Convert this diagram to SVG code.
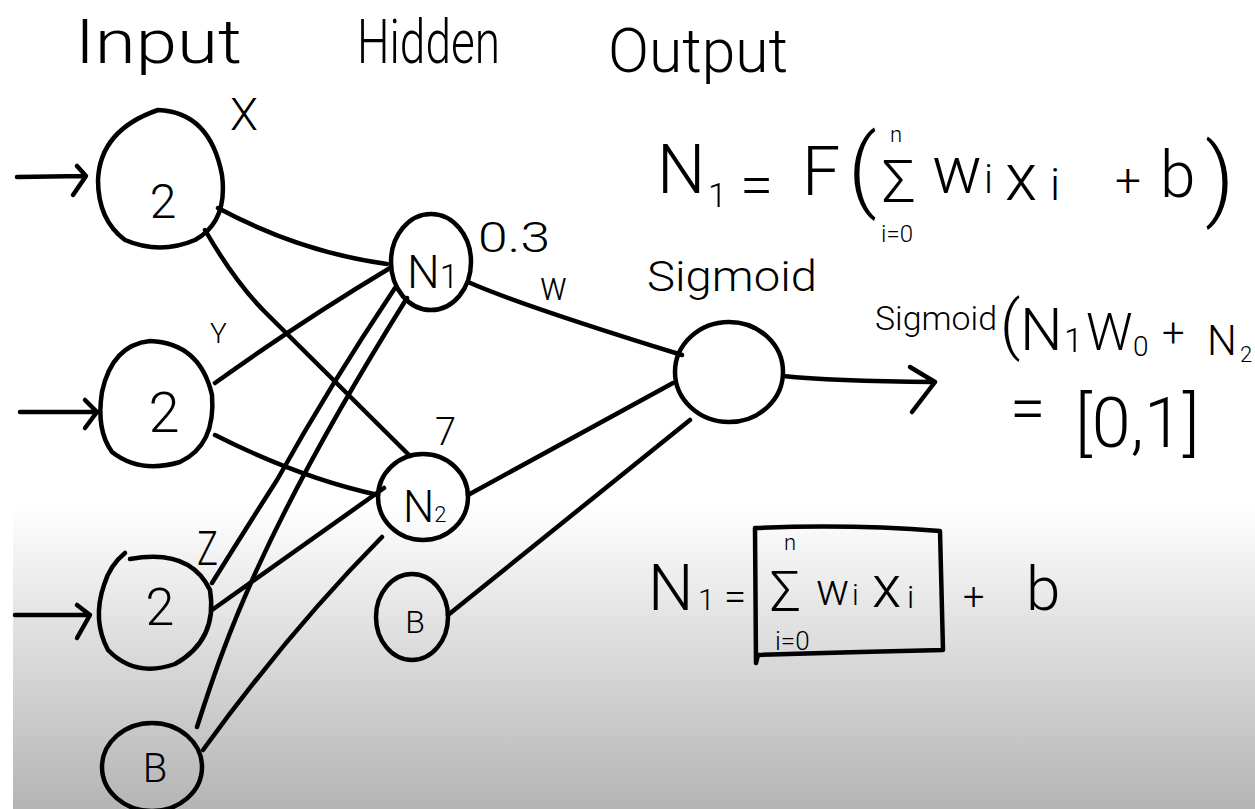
<svg xmlns="http://www.w3.org/2000/svg" width="1255" height="809" viewBox="0 0 1255 809">
<defs>
<linearGradient id="bg" x1="0" y1="0" x2="0" y2="1">
<stop offset="0" stop-color="#ffffff"/>
<stop offset="1" stop-color="#b4b4b4"/>
</linearGradient>
<style>
.ln{fill:none;stroke:#000;stroke-width:4.5;stroke-linecap:round;stroke-linejoin:round}
.nd{fill:none;stroke:#000;stroke-width:4.5;stroke-linecap:round}
text{font-family:Roboto,"Liberation Sans",sans-serif;font-weight:300;fill:#000}
.c{text-anchor:middle}
</style>
</defs>
<rect x="0" y="0" width="1255" height="809" fill="#ffffff"/>
<rect x="13" y="505" width="1242" height="304" fill="url(#bg)"/>

<g id="headers">
<text x="75" y="63" font-size="62" textLength="167" lengthAdjust="spacingAndGlyphs">Input</text>
<text x="357" y="63" font-size="62" textLength="143" lengthAdjust="spacingAndGlyphs">Hidden</text>
<text x="608" y="72" font-size="62" textLength="180" lengthAdjust="spacingAndGlyphs">Output</text>
</g>

<g id="connectors">
<path class="ln" d="M17,177 L85,176 M77,166 L86,176 L73,195"/>
<path class="ln" d="M20,412 L97,412 M85,400 L97,412 L85,428"/>
<path class="ln" d="M15,615 L90,615 M77,605 L90,615 L77,638"/>
<path class="ln" d="M218,208 Q300,252 387,264"/>
<path class="ln" d="M205,230 Q235,282 265,312 L410,456"/>
<path class="ln" d="M215,383 Q300,322 390,268"/>
<path class="ln" d="M215,435 Q300,478 378,495"/>
<path class="ln" d="M212,583 Q245,530 277,480 Q330,385 395,288"/>
<path class="ln" d="M197,727 C225,640 262,530 407,298"/>
<path class="ln" d="M212,610 L384,488"/>
<path class="ln" d="M203,750 Q290,630 382,537"/>
<path class="ln" d="M448,615 L690,420"/>
<path class="ln" d="M468,282 Q520,305 682,355"/>
<path class="ln" d="M468,495 L673,383"/>
<path class="ln" d="M783,376 Q830,381 935,382 M910,367 L935,382 L912,412"/>
</g>

<g id="input1">
<path class="nd" d="M158,110 Q210,112 222,175 Q228,222 195,240 Q160,255 125,240 Q98,220 98,180 Q100,130 158,110 Z"/>
<text class="c" x="163" y="218" font-size="48">2</text>
</g>
<g id="input2">
<path class="nd" d="M150,341 Q200,343 212,395 Q216,445 180,462 Q140,474 112,452 Q96,430 102,392 Q112,345 150,341 Z"/>
<text class="c" x="164" y="432" font-size="56">2</text>
</g>
<g id="input3">
<path class="nd" d="M130,559 Q190,548 210,590 Q218,640 175,664 Q135,678 108,650 Q92,620 104,585 Q110,565 125,553"/>
<text class="c" x="160" y="625" font-size="52">2</text>
</g>
<g id="biasInput">
<ellipse class="nd" cx="152" cy="767" rx="50" ry="44"/>
<text class="c" x="155" y="782" font-size="40">B</text>
</g>
<g id="n1">
<ellipse class="nd" cx="431" cy="262" rx="40" ry="48"/>
<text x="407" y="288" font-size="46">N<tspan font-size="34">1</tspan></text>
</g>
<g id="n2">
<ellipse class="nd" cx="423" cy="497" rx="45" ry="43"/>
<text x="403" y="522" font-size="44">N<tspan font-size="22">2</tspan></text>
</g>
<g id="biasHidden">
<ellipse class="nd" cx="412" cy="617" rx="36" ry="43"/>
<text class="c" x="415" y="633" font-size="32">B</text>
</g>
<g id="output">
<ellipse class="nd" cx="729" cy="372" rx="54" ry="50"/>
</g>

<g id="labels">
<text x="230" y="130" font-size="45" textLength="28" lengthAdjust="spacingAndGlyphs">X</text>
<text x="210" y="343" font-size="28">Y</text>
<text x="197" y="565" font-size="48" textLength="21" lengthAdjust="spacingAndGlyphs">Z</text>
<text x="435" y="445" font-size="38">7</text>
<text x="478" y="252" font-size="42" textLength="72" lengthAdjust="spacingAndGlyphs">0.3</text>
<text x="540" y="300" font-size="40" textLength="27" lengthAdjust="spacingAndGlyphs">w</text>
<text x="647" y="291" font-size="42" textLength="170" lengthAdjust="spacingAndGlyphs">Sigmoid</text>
</g>

<g id="formula1">
<text font-size="68"><tspan x="657" y="193">N</tspan><tspan x="708" y="207" font-size="34">1</tspan><tspan x="740" y="205" font-size="60">=</tspan><tspan x="802" y="195">F</tspan><tspan x="848" y="200" font-size="90">(</tspan><tspan x="932" y="193" font-size="66">w</tspan><tspan x="984" y="193" font-size="40">i</tspan><tspan x="1005" y="200" font-size="66">x</tspan><tspan x="1050" y="200" font-size="45">i</tspan><tspan x="1115" y="196" font-size="46">+</tspan><tspan x="1160" y="197" font-size="64">b</tspan><tspan x="1205" y="209" font-size="90">)</tspan></text>
<text><tspan x="890" y="142" font-size="22">n</tspan><tspan x="882" y="202" font-size="60">Σ</tspan><tspan x="881" y="242" font-size="24">i=0</tspan></text>
</g>

<g id="formula2">
<text x="875" y="330" font-size="33" textLength="122" lengthAdjust="spacingAndGlyphs">Sigmoid</text>
<text font-size="60"><tspan x="1000" y="347" font-size="64">(</tspan><tspan x="1020" y="350">N</tspan><tspan x="1064" y="352" font-size="34">1</tspan><tspan x="1086" y="350" font-size="52">W</tspan><tspan x="1133" y="356" font-size="28">0</tspan><tspan x="1162" y="347" font-size="40">+</tspan><tspan x="1207" y="355" font-size="42">N</tspan><tspan x="1240" y="362" font-size="22">2</tspan></text>
<text font-size="64"><tspan x="1010" y="430">=</tspan><tspan x="1075" y="447" font-size="70">[0,1]</tspan></text>
</g>

<g id="formula3">
<text font-size="64"><tspan x="648" y="610">N</tspan><tspan x="698" y="610" font-size="30">1</tspan><tspan x="724" y="610" font-size="40">=</tspan></text>
<path class="ln" d="M755,528 Q850,524 940,531 L943,650 Q850,652 758,655 L756,663 M755,528 L756,663"/>
<text><tspan x="784" y="550" font-size="22">n</tspan><tspan x="770" y="611" font-size="55">Σ</tspan><tspan x="775" y="650" font-size="26">i=0</tspan></text>
<text font-size="44"><tspan x="816" y="605">w</tspan><tspan x="852" y="605" font-size="30">i</tspan><tspan x="872" y="607" font-size="60">x</tspan><tspan x="907" y="608" font-size="32">i</tspan><tspan x="963" y="610" font-size="38">+</tspan><tspan x="1026" y="610" font-size="62">b</tspan></text>
</g>
</svg>
